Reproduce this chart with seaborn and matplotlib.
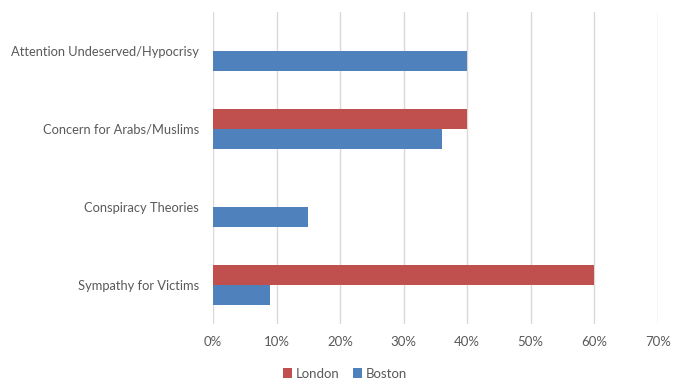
import pandas as pd
import matplotlib.pyplot as plt
import seaborn as sns
from matplotlib.ticker import PercentFormatter

sns.set_theme(style='white')
plt.rcParams['font.family'] = ['Lato', 'DejaVu Sans']

# Dados
categories = ['Attention Undeserved/Hypocrisy', 'Concern for Arabs/Muslims',
              'Conspiracy Theories', 'Sympathy for Victims']
london = [0, 40, 0, 60]
boston = [40, 36, 15, 9]
series = ['London', 'Boston']
colors = ['#C0504D', '#4F81BD']

df = pd.DataFrame({
    'category': categories * 2,
    'value': london + boston,
    'city': ['London'] * len(categories) + ['Boston'] * len(categories),
})

fig = plt.figure(figsize=(6.83, 3.82), dpi=100)
ax = fig.add_axes([0.312, 0.152, 0.651, 0.817])

sns.barplot(data=df, y='category', x='value', hue='city', hue_order=series,
            palette=colors, orient='h', width=0.52, saturation=1,
            linewidth=0, ax=ax)

ax.set_xlim(0, 70)
ax.set_xticks(range(0, 71, 10))
ax.xaxis.set_major_formatter(PercentFormatter(decimals=0))
ax.grid(axis='x', color='#D9D9D9', linewidth=1)
ax.set_axisbelow(True)
sns.despine(ax=ax, left=True, bottom=True)
ax.set_xlabel('')
ax.set_ylabel('')
ax.tick_params(axis='both', length=0, labelsize=9.5, colors='#595959')
ax.tick_params(axis='x', pad=9)
ax.tick_params(axis='y', pad=10, labelsize=9.3)

ax.legend(loc='center', bbox_to_anchor=(0.505, 0.022), bbox_transform=fig.transFigure,
          ncol=2, frameon=False, fontsize=9.5, handlelength=0.7, handleheight=0.7,
          handletextpad=0.3, columnspacing=1.0, labelcolor='#595959')

fig.savefig('out.png', dpi=100)
